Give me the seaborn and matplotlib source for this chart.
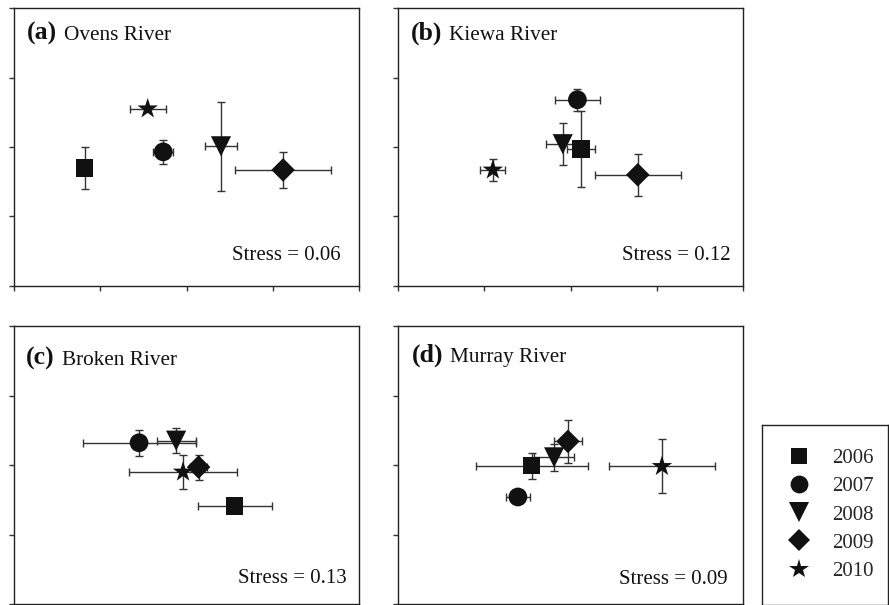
import numpy as np
import pandas as pd
import matplotlib
matplotlib.use("Agg")
import matplotlib.pyplot as plt
from matplotlib.lines import Line2D
import seaborn as sns

sns.set_theme(style="white")
plt.rcParams['font.family'] = ['Liberation Serif', 'DejaVu Serif']

years = [2006, 2007, 2008, 2009, 2010]

# (a) Ovens River
ovens_x = [0.82, 1.73, 2.40, 3.12, 1.55]
ovens_y = [1.70, 1.93, 2.01, 1.67, 2.55]
ovens_xerr = [0.0, 0.115, 0.19, 0.56, 0.21]
ovens_yerr = [0.30, 0.17, 0.64, 0.26, 0.0]

# (b) Kiewa River
kiewa_x = [2.12, 2.08, 1.91, 2.78, 1.10]
kiewa_y = [1.97, 2.68, 2.04, 1.60, 1.67]
kiewa_xerr = [0.16, 0.265, 0.19, 0.50, 0.145]
kiewa_yerr = [0.55, 0.16, 0.30, 0.30, 0.16]

# (c) Broken River
broken_x = [2.56, 1.45, 1.88, 2.14, 1.96]
broken_y = [1.41, 2.32, 2.35, 1.97, 1.90]
broken_xerr = [0.43, 0.655, 0.225, 0.10, 0.63]
broken_yerr = [0.0, 0.19, 0.18, 0.18, 0.24]

# (d) Murray River
murray_x = [1.55, 1.39, 1.81, 1.97, 3.06]
murray_y = [1.99, 1.54, 2.11, 2.34, 1.98]
murray_xerr = [0.65, 0.14, 0.235, 0.16, 0.61]
murray_yerr = [0.185, 0.0, 0.19, 0.31, 0.39]

panel_letters = ["(a)", "(b)", "(c)", "(d)"]
panel_names = ["Ovens River", "Kiewa River", "Broken River", "Murray River"]
stress_labels = ["Stress = 0.06", "Stress = 0.12", "Stress = 0.13", "Stress = 0.09"]

markers = {2006: "s", 2007: "o", 2008: "v", 2009: "D", 2010: "*"}
msizes = {2006: 12.5, 2007: 13.5, 2008: 14.5, 2009: 12.0, 2010: 15.5}

W, H = 889, 605
fig = plt.figure(figsize=(W / 100, H / 100), dpi=100)

def px_axes(left, top, right, bottom):
    return fig.add_axes([left / W, 1 - bottom / H, (right - left) / W, (bottom - top) / H])

boxes = [(14, 8, 359, 286), (398, 8, 743, 286), (14, 326, 359, 604), (398, 326, 743, 604)]
data = [
    (ovens_x, ovens_y, ovens_xerr, ovens_yerr),
    (kiewa_x, kiewa_y, kiewa_xerr, kiewa_yerr),
    (broken_x, broken_y, broken_xerr, broken_yerr),
    (murray_x, murray_y, murray_xerr, murray_yerr),
]
label_pos = [(0.038, 0.887), (0.037, 0.887), (0.035, 0.862), (0.040, 0.872)]
stress_pos = [(0.948, 0.094), (0.965, 0.094), (0.965, 0.077), (0.954, 0.072)]

axes = []
for i, (box, (xs, ys, xe, ye)) in enumerate(zip(boxes, data)):
    ax = px_axes(*box)
    axes.append(ax)
    df = pd.DataFrame({"x": xs, "y": ys, "year": years})
    ax.errorbar(df["x"], df["y"], xerr=xe, yerr=ye, fmt="none",
                ecolor="#333333", elinewidth=1.0, capsize=3.0, capthick=1.0, zorder=2)
    sns.scatterplot(data=df, x="x", y="y", style="year", markers=markers,
                    size="year", sizes={k: v ** 2 for k, v in msizes.items()},
                    color="#111111", edgecolor="none", linewidth=0, legend=False,
                    ax=ax, zorder=3)
    ax.set_xlim(0, 4)
    ax.set_ylim(0, 4)
    ax.set_xticks([0, 1, 2, 3, 4])
    ax.set_yticks([0, 1, 2, 3, 4])
    ax.set_xticklabels([])
    ax.set_yticklabels([])
    ax.set_xlabel("")
    ax.set_ylabel("")
    ax.tick_params(axis="both", direction="out", length=3.5, width=1.0, color="#333333",
                   bottom=True, left=True, top=False, right=False)
    for s in ax.spines.values():
        s.set_color("#222222")
        s.set_linewidth(1.0)
    lx, ly = label_pos[i]
    t1 = ax.text(lx, ly, panel_letters[i], transform=ax.transAxes, fontsize=18.5,
                 fontweight="bold", va="baseline", ha="left", color="#111111")
    ax.annotate(panel_names[i], xy=(1, 0), xycoords=t1, xytext=(5, 0),
                textcoords="offset points", fontsize=15.3, va="bottom", ha="left",
                color="#111111")
    sx, sy = stress_pos[i]
    ax.text(sx, sy, stress_labels[i], transform=ax.transAxes, fontsize=15,
            va="baseline", ha="right", color="#111111")

# legend box
lax = px_axes(762, 425, 888.5, 604.5)
lax.set_xticks([])
lax.set_yticks([])
for s in lax.spines.values():
    s.set_color("#222222")
    s.set_linewidth(1.0)
handles = [Line2D([], [], linestyle="none", marker=markers[y], markersize=msizes[y] * 0.95,
                  color="#111111", markeredgewidth=0) for y in years]
lax.legend(handles, [str(y) for y in years], loc="center", bbox_to_anchor=(0.54, 0.5),
           frameon=False, fontsize=15, labelspacing=0.41, handletextpad=1.0,
           handlelength=1.2, borderpad=0.2)

fig.savefig("out.png", dpi=100)
